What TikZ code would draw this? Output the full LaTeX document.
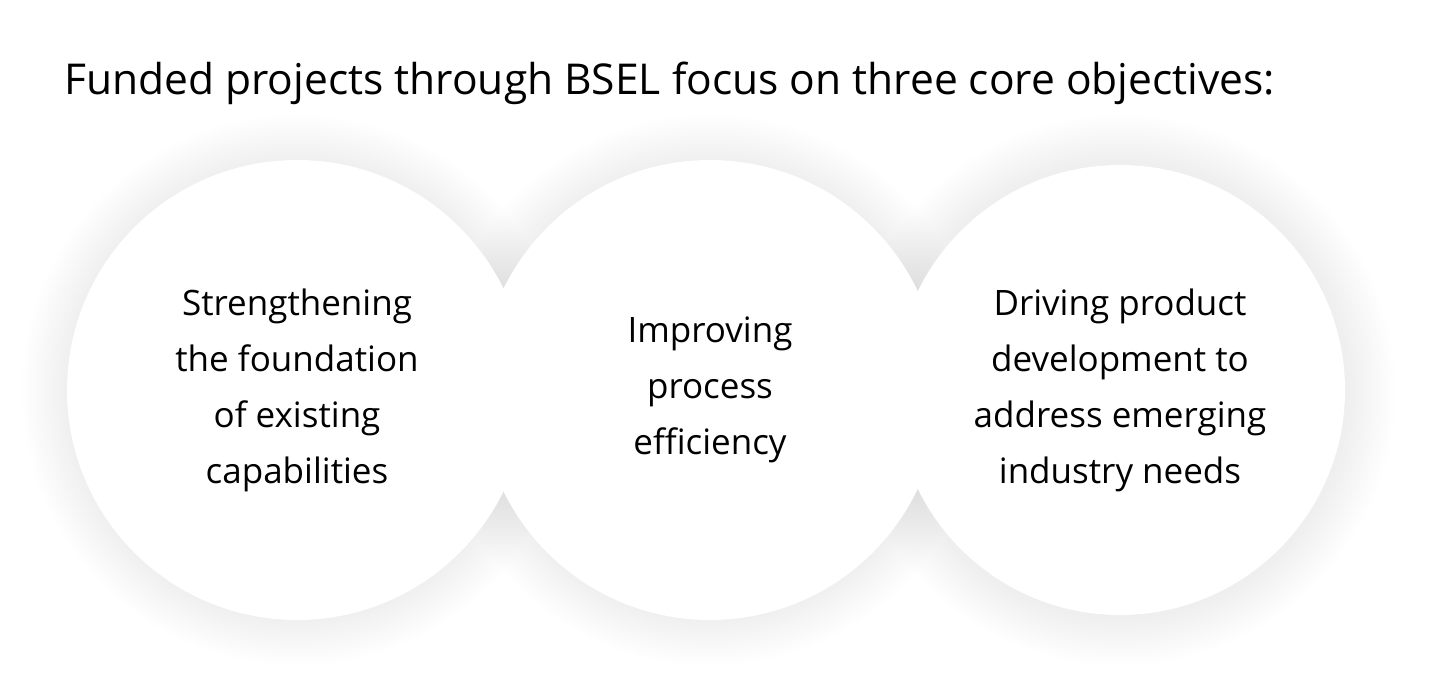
\documentclass[tikz,border=0pt]{standalone}
\usepackage{fontspec}
\setmainfont{Open Sans}
\definecolor{glow}{RGB}{150,200,170}
\begin{document}
\begin{tikzpicture}[x=1pt,y=-1pt,
  disc/.style={circle,fill=white,minimum size=460pt,inner sep=0pt,align=center,font=\fontsize{35}{56}\selectfont}]
\useasboundingbox (0,0) rectangle (1430,700);
\fill[white] (0,0) rectangle (1430,700);
\node[anchor=base west,font=\fontsize{42.5}{50}\selectfont,inner sep=0pt] (title) at (64,95) {Funded projects through BSEL focus on three core objectives:};
\foreach \cx in {297,710,1120}{
  \foreach \r in {0,3,...,45}{
    \fill[glow,opacity=0.007] (\cx,390) circle (230+\r);
  }
}
\node[disc] (a) at (297,390) {Strengthening\\the foundation\\of existing\\capabilities};
\node[disc,minimum size=450pt] (c) at (1120,390) {Driving product\\development to\\address emerging\\industry needs};
\node[disc] (b) at (710,390) {Improving\\process\\efficiency};
\end{tikzpicture}
\end{document}
